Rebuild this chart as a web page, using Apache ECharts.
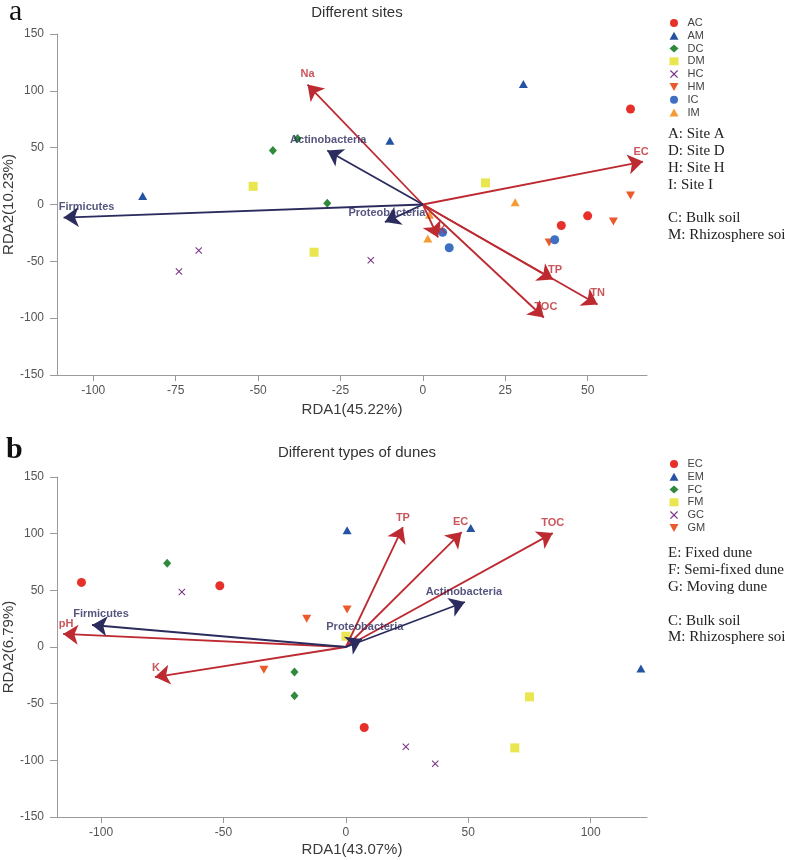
<!DOCTYPE html>
<html><head><meta charset="utf-8">
<script src="https://cdn.jsdelivr.net/npm/echarts@6/dist/echarts.min.js"></script>
<style>html,body{margin:0;padding:0;background:#fff}#c{width:785px;height:860px}</style>
</head><body><div id="c"></div>
<script>
// ---------- Panel a: Different sites ----------
const aGroups = ['AC','AM','DC','DM','HC','HM','IC','IM'];
const AC = [[63,84],[50,-10],[42,-18.5]];
const AM = [[30.5,106],[-10,56],[-85,7.5]];
const DC = [[-45.5,47.5],[-38,58],[-29,1]];
const DM = [[-51.5,16],[-33,-42],[19,19]];
const HC = [[-74,-59],[-68,-40.5],[-15.8,-49]];
const HM = [[63,8],[57.8,-15],[38.3,-33.5]];
const IC = [[40,-31],[8,-38],[6,-24.5]];
const IM = [[28,2],[1.5,-30],[2,-9]];
const aEnvNames = ['Na','EC','TP','TN','TOC','K'];
const aEnvTips = [[-35,105.5],[66.8,37.8],[39.5,-66],[53,-88],[36.7,-99.4],[4.6,-29]];
const aTaxaNames = ['Actinobacteria','Firmicutes','Proteobacteria'];
const aTaxaTips = [[-29,47.5],[-109,-11.5],[-11.5,-15.5]];
const aXTicks = [-100,-75,-50,-25,0,25,50];
const aYTicks = [-150,-100,-50,0,50,100,150];
const aNotes = ['A: Site A','D: Site D','H: Site H','I: Site I','','C: Bulk soil','M: Rhizosphere soil'];

// ---------- Panel b: Different types of dunes ----------
const bGroups = ['EC','EM','FC','FM','GC','GM'];
const EC = [[-108,57],[-51.5,54],[7.5,-71]];
const EM = [[0.5,103],[51,105],[120.5,-19]];
const FC = [[-73,74],[-21,-22],[-21,-43]];
const FM = [[0,9.5],[75,-44],[69,-89]];
const GC = [[-67,48.5],[24.5,-88],[36.5,-103]];
const GM = [[-16,25],[0.5,33],[-33.5,-20]];
const bEnvNames = ['pH','K','TP','EC','TOC'];
const bEnvTips = [[-115.5,11.5],[-78,-26.5],[23.3,105.8],[47.3,101.4],[84.5,100.5]];
const bTaxaNames = ['Firmicutes','Actinobacteria','Proteobacteria'];
const bTaxaTips = [[-103.7,19.4],[48.6,39.7],[6.5,7]];
const bXTicks = [-100,-50,0,50,100];
const bYTicks = [-150,-100,-50,0,50,100,150];
const bNotes = ['E: Fixed dune','F: Semi-fixed dune','G: Moving dune','','C: Bulk soil','M: Rhizosphere soil'];

// ---------- styles ----------
const SANS = '"Liberation Sans", Arial, sans-serif';
const SERIF = '"Liberation Serif", "Times New Roman", serif';
const RED = '#bd2a31', NAVY = '#2b2b5e';
const CROSS = 'path://M1,0L5,4L9,0L10,1L6,5L10,9L9,10L5,6L1,10L0,9L4,5L0,1Z';
const TRIDOWN = 'path://M0,0L10,0L5,9Z';
const markStyle = {
  AC:{symbol:'circle',size:9,color:'#e8302b'},
  AM:{symbol:'triangle',size:[9,8],color:'#2553a3'},
  DC:{symbol:'diamond',size:[8,9],color:'#2f8a3c'},
  DM:{symbol:'rect',size:9,color:'#e9e650'},
  HC:{symbol:CROSS,size:7,color:'#7a2f86'},
  HM:{symbol:TRIDOWN,size:[9,8],color:'#ea5a2b'},
  IC:{symbol:'circle',size:9,color:'#3f6fc2'},
  IM:{symbol:'triangle',size:[9,8],color:'#f59b33'},
  EC:{symbol:'circle',size:9,color:'#e8302b'},
  EM:{symbol:'triangle',size:[9,8],color:'#2553a3'},
  FC:{symbol:'diamond',size:[8,9],color:'#2f8a3c'},
  FM:{symbol:'rect',size:9,color:'#e9e650'},
  GC:{symbol:CROSS,size:7,color:'#7a2f86'},
  GM:{symbol:TRIDOWN,size:[9,8],color:'#ea5a2b'}
};
const labelOffsetA = {Na:[0,-3],EC:[-2,-2],TP:[2,-2],TN:[0,-4],TOC:[2,-3],K:[4,0],
  Actinobacteria:[1,-3],Firmicutes:[23,-3],Proteobacteria:[2,-2]};
const labelOffsetB = {pH:[3,-2],K:[1,-2],TP:[0,-2],EC:[-1,-3],TOC:[0,-3],
  Firmicutes:[9,-4],Actinobacteria:[-1,-3],Proteobacteria:[3,-5]};

const dataA = {AC,AM,DC,DM,HC,HM,IC,IM};
const dataB = {EC,EM,FC,FM,GC,GM};

function pointSeries(groups, dataMap, idx){
  return groups.map(g => ({
    type:'scatter', name:g, xAxisIndex:idx, yAxisIndex:idx,
    data:dataMap[g], symbol:markStyle[g].symbol, symbolSize:markStyle[g].size,
    itemStyle:{color:markStyle[g].color, opacity:1}, z:2, silent:true
  }));
}
function arrowSeries(names, tips, color, idx, offsets){
  return [{
    type:'lines', coordinateSystem:'cartesian2d', xAxisIndex:idx, yAxisIndex:idx,
    polyline:false, symbol:['none','arrow'], symbolSize:[12,15],
    lineStyle:{color:color, width:1.8, opacity:1}, z:4, silent:true,
    data: tips.map(t => ({coords:[[0,0],t]}))
  },{
    type:'scatter', xAxisIndex:idx, yAxisIndex:idx, symbolSize:0, z:5, silent:true,
    data: tips.map((t,i) => ({name:names[i], value:t,
      label:{show:true, position:'top', distance:2, offset:offsets[names[i]]||[0,0],
        formatter:'{b}', color:color, fontWeight:'bold', fontSize:11, fontFamily:SANS}}))
  }];
}
function xAxisCfg(idx, min, max, ticks, name, gap){
  return {gridIndex:idx, type:'value', min, max, name, nameLocation:'middle', nameGap:gap,
    nameMoveOverlap:false,
    nameTextStyle:{fontSize:15, color:'#3a3a3a', fontFamily:SANS},
    axisLine:{onZero:false, lineStyle:{color:'#9a9a9a', width:1}},
    axisTick:{show:true, length:6, customValues:ticks, lineStyle:{color:'#9a9a9a'}},
    axisLabel:{customValues:ticks, fontSize:12, color:'#555', margin:10, fontFamily:SANS},
    splitLine:{show:false}};
}
function yAxisCfg(idx, ticks, name){
  return {gridIndex:idx, type:'value', min:-150, max:150, interval:50, name, nameLocation:'middle', nameGap:41,
    nameMoveOverlap:false,
    nameTextStyle:{fontSize:15, color:'#3a3a3a', fontFamily:SANS},
    axisLine:{onZero:false, lineStyle:{color:'#9a9a9a', width:1}},
    axisTick:{show:true, length:7, lineStyle:{color:'#9a9a9a'}},
    axisLabel:{fontSize:12, color:'#555', margin:13, fontFamily:SANS},
    splitLine:{show:false}};
}
function notes(lines, left, top){
  return lines.map((s,i) => ({type:'text', left, top: top + i*16.8,
    style:{text:s, font:'15px ' + SERIF, fill:'#222'}}));
}

const option = {
  animation:false,
  backgroundColor:'#fff',
  title:[
    {text:'Different sites', left:352, top:0, textAlign:'center',
      textStyle:{fontSize:15, fontWeight:'normal', color:'#333', fontFamily:SANS}},
    {text:'Different types of dunes', left:352, top:440, textAlign:'center',
      textStyle:{fontSize:15, fontWeight:'normal', color:'#333', fontFamily:SANS}}
  ],
  grid:[
    {left:57, top:34, width:590, height:341, containLabel:false, outerBoundsMode:'none'},
    {left:57, top:477, width:590, height:340, containLabel:false, outerBoundsMode:'none'}
  ],
  xAxis:[xAxisCfg(0,-111,68,aXTicks,'RDA1(45.22%)',27), xAxisCfg(1,-118,123,bXTicks,'RDA1(43.07%)',25)],
  yAxis:[yAxisCfg(0,aYTicks,'RDA2(10.23%)'), yAxisCfg(1,bYTicks,'RDA2(6.79%)')],
  legend:[
    {data:aGroups, orient:'vertical', left:669.5, top:16.5, padding:0, itemWidth:9, itemHeight:8, itemGap:0,
      textStyle:{fontSize:11, color:'#444', lineHeight:12.8, padding:[0,0,0,4], fontFamily:SANS}, selectedMode:false},
    {data:bGroups, orient:'vertical', left:669.5, top:457.5, padding:0, itemWidth:9, itemHeight:8, itemGap:0,
      textStyle:{fontSize:11, color:'#444', lineHeight:12.8, padding:[0,0,0,4], fontFamily:SANS}, selectedMode:false}
  ],
  graphic:[
    {type:'text', left:9, top:-3, style:{text:'a', font:'30px ' + SERIF, fill:'#111'}},
    {type:'text', left:6, top:435, style:{text:'b', font:'bold 30px ' + SERIF, fill:'#111'}},
    ...notes(aNotes, 668, 127),
    ...notes(bNotes, 668, 546)
  ],
  series:[
    ...pointSeries(aGroups, dataA, 0),
    ...arrowSeries(aEnvNames, aEnvTips, RED, 0, labelOffsetA),
    ...arrowSeries(aTaxaNames, aTaxaTips, NAVY, 0, labelOffsetA),
    ...pointSeries(bGroups, dataB, 1),
    ...arrowSeries(bEnvNames, bEnvTips, RED, 1, labelOffsetB),
    ...arrowSeries(bTaxaNames, bTaxaTips, NAVY, 1, labelOffsetB)
  ]
};
const chart = echarts.init(document.getElementById('c'), null, {renderer:'canvas'});
chart.setOption(option);
</script></body></html>
